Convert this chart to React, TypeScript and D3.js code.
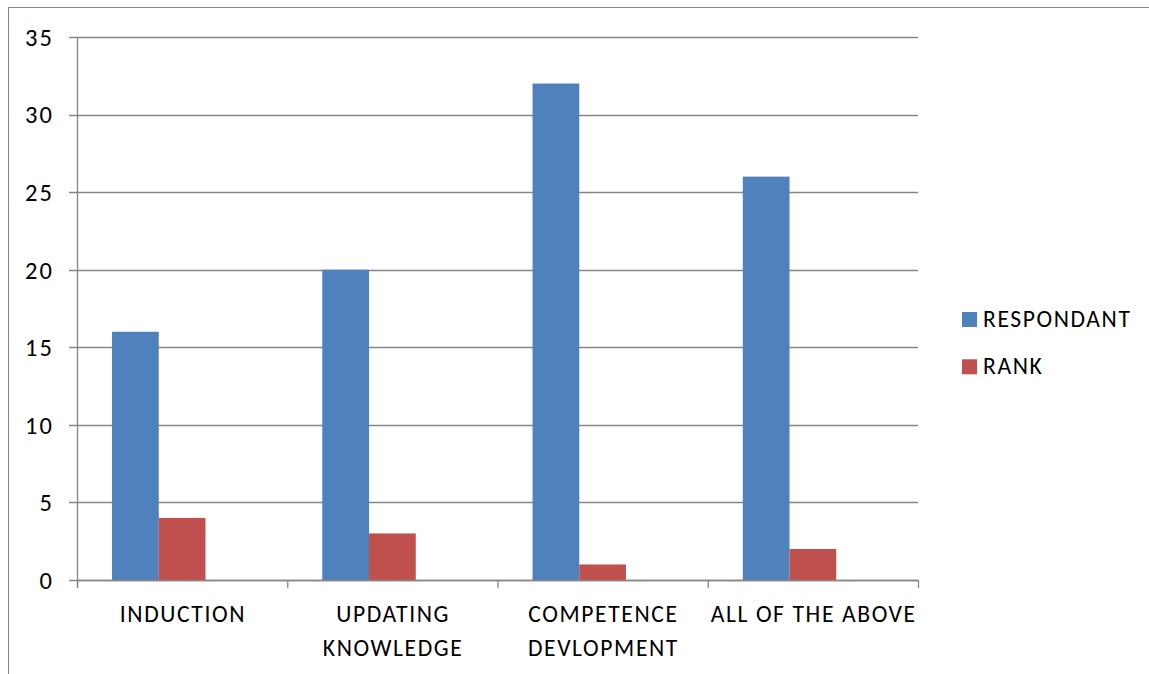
import React from "react";
import * as d3 from "d3";

const categories = [
  ["INDUCTION"],
  ["UPDATING", "KNOWLEDGE"],
  ["COMPETENCE", "DEVLOPMENT"],
  ["ALL OF THE ABOVE"],
];
const respondant = [16, 20, 32, 26];
const rank = [4, 3, 1, 2];
const seriesNames = ["RESPONDANT", "RANK"];
const seriesColors = ["#4F81BD", "#C0504D"];
const yTicks = [0, 5, 10, 15, 20, 25, 30, 35];

const W = 1149;
const H = 674;
const left = 77;
const right = 918;
const top = 37;
const bottom = 580;
const FONT = "Carlito, Calibri, Lato, sans-serif";
const FS = 23.6;
const LS = 1.6;
const TICK_FS = 24.5;
const TICK_LS = 2.2;
const GRID = "#868686";

export default function App() {
  const keys = categories.map((c) => c.join(" "));
  const x0 = d3.scaleBand<string>().domain(keys).range([left, right]).padding(0);
  // three slots per category (the third slot is left empty), 150% gap
  const x1 = d3
    .scaleBand<string>()
    .domain([...seriesNames, "_"])
    .range([0, x0.bandwidth()])
    .paddingInner(0)
    .paddingOuter(0.75);
  const y = d3.scaleLinear().domain([0, 35]).range([bottom, top]);
  const values = [respondant, rank];
  const boundaries = d3.range(categories.length + 1).map((i) => left + i * x0.step());

  return (
    <svg
      width={W}
      height={H}
      style={{ position: "absolute", left: 0, top: 0, background: "#fff" }}
      fontFamily={FONT}
    >
      <rect x={8.5} y={7.5} width={W + 20} height={H + 20} fill="#fff" stroke={GRID} strokeWidth={1} />
      {yTicks.map((t) => (
        <g key={t}>
          <line x1={69} x2={right} y1={Math.round(y(t)) + 0.5} y2={Math.round(y(t)) + 0.5} stroke={GRID} strokeWidth={1.3} />
          <text x={52 + TICK_LS} y={y(t)} dy="0.36em" textAnchor="end" fontSize={TICK_FS} letterSpacing={TICK_LS} fill="#000">
            {t}
          </text>
        </g>
      ))}
      {values.map((vals, si) =>
        vals.map((v, ci) => (
          <rect
            key={`${si}-${ci}`}
            x={x0(keys[ci])! + x1(seriesNames[si])!}
            y={y(v)}
            width={x1.bandwidth()}
            height={y(0) - y(v)}
            fill={seriesColors[si]}
          />
        ))
      )}
      <line x1={left + 0.5} x2={left + 0.5} y1={top} y2={bottom + 8} stroke={GRID} strokeWidth={1.3} />
      <line x1={left} x2={right} y1={bottom + 0.5} y2={bottom + 0.5} stroke={GRID} strokeWidth={1.5} />
      {boundaries.map((b, i) => (
        <line key={i} x1={b + 0.5} x2={b + 0.5} y1={bottom} y2={bottom + 8} stroke={GRID} strokeWidth={1.3} />
      ))}
      {categories.map((lines, ci) => {
        const cx = x0(keys[ci])! + x0.bandwidth() / 2 + LS / 2;
        return (
          <text key={ci} x={cx} y={622} textAnchor="middle" fontSize={FS} letterSpacing={LS} fill="#000">
            {lines.map((l, li) => (
              <tspan key={li} x={cx} dy={li === 0 ? 0 : 33.5}>
                {l}
              </tspan>
            ))}
          </text>
        );
      })}
      {seriesNames.map((n, i) => (
        <g key={n} transform={`translate(962, ${312 + i * 47.3})`}>
          <rect x={0} y={0} width={15} height={15} fill={seriesColors[i]} />
          <text x={21} y={15} fontSize={FS} letterSpacing={LS} fill="#000">
            {n}
          </text>
        </g>
      ))}
    </svg>
  );
}
